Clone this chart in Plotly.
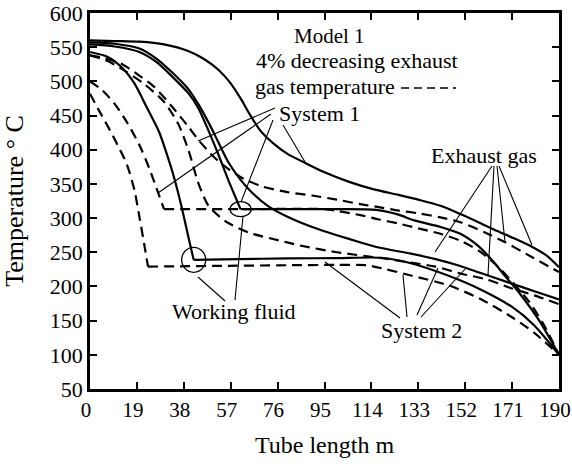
import plotly.graph_objects as go

# ---------------- data ----------------
x_ticks = [0, 19, 38, 57, 76, 95, 114, 133, 152, 171, 190]
y_ticks = [50, 100, 150, 200, 250, 300, 350, 400, 450, 500, 550, 600]

# Exhaust gas, System 1 (solid) and 4% decreased (dashed)
exh1_solid_x = [0, 10, 20, 30, 40, 46, 52, 57, 61, 65, 69, 74, 80, 87, 95, 105, 115, 125, 133, 142, 150, 158, 165, 172, 179, 185, 190]
exh1_solid_y = [560, 559, 558, 554, 544, 533, 517, 497, 475, 450, 428, 410, 394, 381, 367, 353, 342, 334, 327, 318, 306, 293, 281, 270, 258, 245, 228]
exh1_dash_x = [0, 6, 12.5, 19, 26, 33, 40, 44, 50, 56, 62, 70, 80, 90, 100, 110, 117, 125, 133, 142, 150, 160, 168, 179, 190]
exh1_dash_y = [538, 534, 526, 511, 492, 464, 433, 414, 390, 372, 358, 346, 338, 333, 327, 320, 316, 311, 307, 301, 294, 279, 265, 243, 221]

# Exhaust gas, System 2
exh2_solid_x = [0, 10, 20, 27, 33, 40, 44, 48, 52, 56, 61, 66, 72, 80, 90, 100, 110, 117, 130, 140, 150, 158, 171, 180, 190]
exh2_solid_y = [557, 555, 548, 533, 514, 488, 466, 440, 411, 382, 356, 336, 318, 302, 287, 275, 264, 257, 248, 240, 230, 220, 204, 193, 181]
exh2_dash_x = [0, 7, 12.5, 22, 30, 36, 40, 44, 48, 55, 65, 77, 85, 100, 117, 130, 140, 150, 161, 171, 180, 190]
exh2_dash_y = [538, 530, 519, 496, 470, 436, 398, 350, 318, 295, 278, 267, 260, 250, 242, 235, 229, 219, 210, 197, 187, 174]

# Working fluid, System 1 (superheated part / evaporation + preheating)
fl1_sh_x = [0, 10, 20, 27, 33, 40, 44, 48, 52, 56, 61]
fl1_sh_y = [554, 551, 543, 528, 508, 482, 460, 428, 393, 356, 313]
fl1_lq_x = [61, 80, 100, 116, 125, 131, 142, 150, 157, 163, 168, 174, 182, 190]
fl1_lq_y = [313, 313, 313, 312, 305, 297, 287, 277, 260, 238, 216, 190, 150, 100]
fl1d_sh_x = [0, 5, 10, 15, 20, 24, 27, 30]
fl1d_sh_y = [500, 487, 467, 440, 407, 373, 343, 313]
fl1d_lq_x = [30, 60, 95, 101, 110, 117, 125, 133, 142, 150, 158, 165, 171, 178, 184, 190]
fl1d_lq_y = [313, 313, 313, 310, 304, 298, 292, 285, 277, 267, 251, 230, 207, 177, 143, 100]

# Working fluid, System 2
fl2_sh_x = [0, 7, 13, 18, 23, 28, 31, 34, 37, 40, 42]
fl2_sh_y = [543, 536, 520, 497, 462, 426, 395, 360, 318, 270, 239]
fl2_lq_x = [42, 60, 80, 100, 118, 130, 145, 158, 171, 180, 190]
fl2_lq_y = [239, 240, 241, 241.5, 242, 234, 216, 196, 170, 143, 100]
fl2d_sh_x = [0, 4, 8, 12, 15, 18, 20, 22, 23.5]
fl2d_sh_y = [482, 455, 429, 401, 378, 341, 302, 261, 229]
fl2d_lq_x = [23.5, 50, 80, 100, 112, 120, 130, 145, 158, 171, 180, 190]
fl2d_lq_y = [229, 230, 231, 231.5, 231, 225, 216, 202, 182, 155, 132, 100]

# ---------------- layout geometry ----------------
W, H = 572, 464
L, R, T, B = 90, 13, 13, 75
PW, PH = W - L - R, H - T - B
X0, X1, Y0, Y1 = 0, 190, 50, 600


def px_x(p):
    return X0 + (p - L) / PW * (X1 - X0)


def px_y(p):
    return Y1 - (p - T) / PH * (Y1 - Y0)


FONT = "Liberation Serif, Times New Roman, serif"
DASH = "10px,6px"
LW = 2.2

fig = go.Figure()

curves = [
    (exh1_solid_x, exh1_solid_y, "solid"),
    (exh1_dash_x, exh1_dash_y, DASH),
    (exh2_solid_x, exh2_solid_y, "solid"),
    (exh2_dash_x, exh2_dash_y, DASH),
    (fl1_sh_x, fl1_sh_y, "solid"),
    (fl1_lq_x, fl1_lq_y, "solid"),
    (fl1d_sh_x, fl1d_sh_y, DASH),
    (fl1d_lq_x, fl1d_lq_y, DASH),
    (fl2_sh_x, fl2_sh_y, "solid"),
    (fl2_lq_x, fl2_lq_y, "solid"),
    (fl2d_sh_x, fl2d_sh_y, DASH),
    (fl2d_lq_x, fl2d_lq_y, DASH),
]
for xs, ys, d in curves:
    fig.add_trace(go.Scatter(
        x=xs, y=ys, mode="lines",
        line=dict(color="black", width=LW, dash=d, shape="spline", smoothing=0.7),
        showlegend=False, hoverinfo="skip", cliponaxis=True))

shapes = []
# pointer lines (pixel positions converted to data coords)
pointers = [
    # System 1
    ((275, 108), (198, 141)), ((271, 114), (158, 193)), ((273, 120), (241, 202)), ((283, 125), (305, 162)),
    # Exhaust gas
    ((492, 166), (435, 252)), ((494, 166), (488, 275)), ((497, 166), (505, 242)), ((499, 166), (532, 245)),
    # System 2
    ((400, 318), (325, 262)), ((407, 317), (403, 275)), ((417, 315), (438, 268)), ((421, 317), (467, 267)),
    # Working fluid
    ((225, 301), (198, 277)), ((235, 300), (243, 216)),
]
for (a, b), (c, d) in pointers:
    shapes.append(dict(type="line", xref="x", yref="y",
                       x0=px_x(a), y0=px_y(b), x1=px_x(c), y1=px_y(d),
                       line=dict(color="black", width=1.1)))

# circles at the evaporation start points
shapes.append(dict(type="circle", xref="x", yref="y", xsizemode="pixel", ysizemode="pixel",
                   xanchor=fl1_sh_x[-1], yanchor=fl1_sh_y[-1], x0=-10.5, x1=10.5, y0=-7.5, y1=7.5,
                   line=dict(color="black", width=1.3)))
shapes.append(dict(type="circle", xref="x", yref="y", xsizemode="pixel", ysizemode="pixel",
                   xanchor=fl2_sh_x[-1], yanchor=fl2_sh_y[-1], x0=-12, x1=12, y0=-12.5, y1=12.5,
                   line=dict(color="black", width=1.3)))

# legend dash sample
shapes.append(dict(type="line", xref="x", yref="y",
                   x0=px_x(401), y0=px_y(88), x1=px_x(456), y1=px_y(88),
                   line=dict(color="black", width=1.6, dash="8px,5px")))

annotations = [
    dict(text="Model 1", x=px_x(329), y=px_y(36), xanchor="center", fs=21),
    dict(text="4% decreasing exhaust", x=px_x(357), y=px_y(60), xanchor="center", fs=22),
    dict(text="gas temperature", x=px_x(253), y=px_y(86), xanchor="left", fs=22),
    dict(text="System 1", x=px_x(277), y=px_y(113), xanchor="left", fs=22),
    dict(text="Exhaust gas", x=px_x(484), y=px_y(155), xanchor="center", fs=22),
    dict(text="Working fluid", x=px_x(234), y=px_y(311), xanchor="center", fs=22),
    dict(text="System 2", x=px_x(421), y=px_y(330), xanchor="center", fs=22),
]
for a in annotations:
    size = a.pop("fs")
    a.update(xref="x", yref="y", yanchor="middle", showarrow=False,
             font=dict(family=FONT, size=size, color="black"))

axis_common = dict(showline=True, linecolor="black", linewidth=2.5, mirror="ticks",
                   ticks="inside", ticklen=7, tickwidth=2, tickcolor="black",
                   showgrid=False, zeroline=False, automargin=False)

fig.update_layout(
    width=W, height=H,
    margin=dict(l=L, r=R, t=T, b=B, autoexpand=False),
    paper_bgcolor="white", plot_bgcolor="white",
    shapes=shapes, annotations=annotations,
    xaxis=dict(range=[X0, X1], tickvals=x_ticks, ticktext=[str(v) for v in x_ticks],
               ticklabelshift=-4, ticklabeloverflow="allow",
               tickfont=dict(family=FONT, size=21, color="black"),
               title=dict(text="Tube length m", font=dict(family=FONT, size=24, color="black"), standoff=16),
               **axis_common),
    yaxis=dict(range=[Y0, Y1], tickvals=y_ticks, ticktext=[str(v) for v in y_ticks],
               tickfont=dict(family=FONT, size=22, color="black"),
               title=dict(text="Temperature \u00b0 C", font=dict(family=FONT, size=26, color="black"), standoff=20),
               **axis_common),
)

fig.write_html("out.html")
